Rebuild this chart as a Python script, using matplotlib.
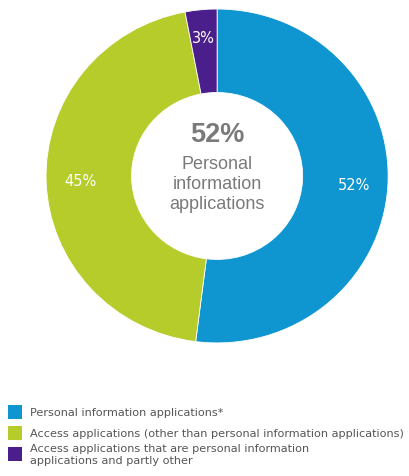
import matplotlib
matplotlib.use("Agg")
import matplotlib.pyplot as plt
from matplotlib.patches import Rectangle

# Share of applications by type
categories = [
    "Personal information applications*",
    "Access applications (other than personal information applications)",
    "Access applications that are personal information\napplications and partly other",
]
shares = [52, 45, 3]
colors = ["#0f95d0", "#b5cc2a", "#4a1f8c"]

plt.rcParams["font.family"] = ["Liberation Sans", "DejaVu Sans"]

W, H = 410, 477
fig = plt.figure(figsize=(W / 100, H / 100), dpi=100)
ax = fig.add_axes([0.104, 0.272, 0.851, 0.714])

wedges, texts, autotexts = ax.pie(
    shares,
    colors=colors,
    startangle=90,
    counterclock=False,
    radius=1.0,
    wedgeprops=dict(width=0.5, edgecolor="white", linewidth=0.6),
    autopct=lambda p: f"{p:.0f}%",
    pctdistance=0.80,
    textprops=dict(color="white", fontsize=10.5, family="DejaVu Sans"),
)
# small slice label sits a bit further out
x3, y3 = autotexts[2].get_position()
autotexts[2].set_position((x3 * 1.04, y3 * 1.04))
ax.set_xlim(-1.02, 1.02)
ax.set_ylim(-1.02, 1.02)
ax.set_aspect("auto")

# headline figure in the hole
ax.text(0, 0.25, f"{shares[0]}%", ha="center", va="center",
        fontsize=19.5, fontweight="bold", color="#7a7a7a")
ax.text(0, -0.045, "Personal\ninformation\napplications", ha="center", va="center",
        fontsize=13, color="#7a7a7a", linespacing=1.2)

# legend drawn row by row so the wrapped entry stays compact
row_y = [413, 434, 455]
for col, label, y in zip(colors, categories, row_y):
    fig.patches.append(Rectangle((8 / W, 1 - (y + 7) / H), 14 / W, 14 / H,
                                 transform=fig.transFigure, facecolor=col,
                                 edgecolor="none"))
    fig.text(30 / W, 1 - y / H, label, ha="left", va="center",
             fontsize=8.1, color="#555555", family="DejaVu Sans",
             linespacing=1.3)

fig.savefig("out.png", dpi=100)
